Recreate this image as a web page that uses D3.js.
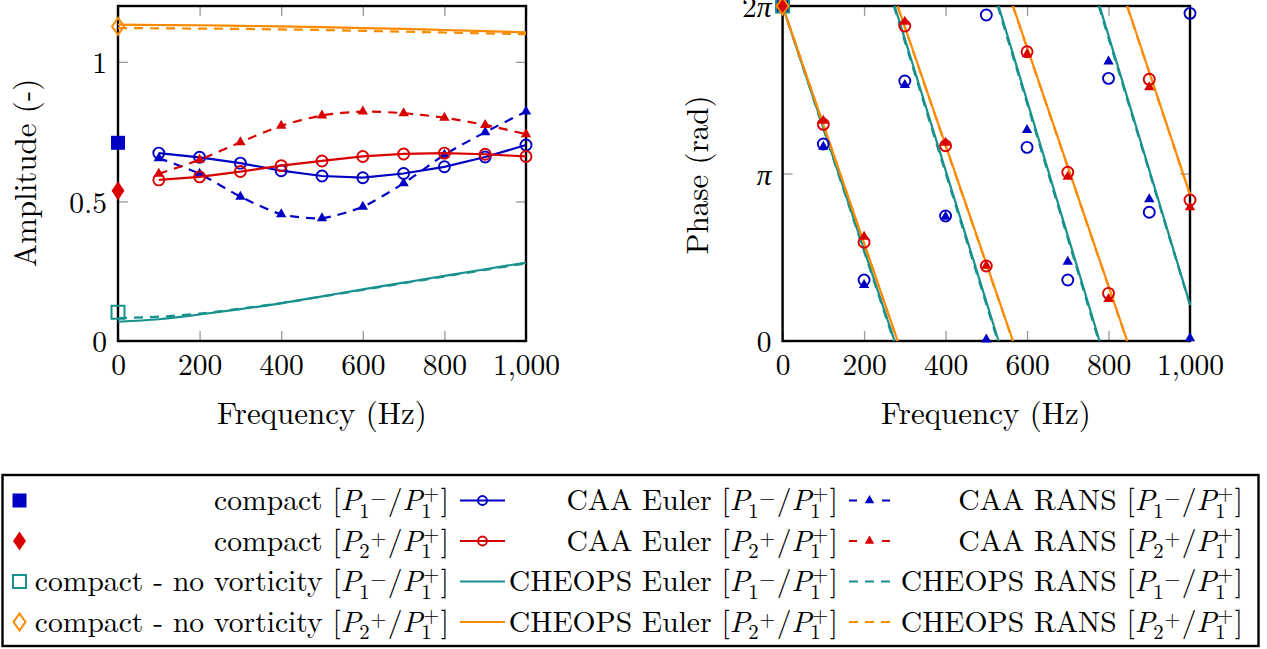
<!DOCTYPE html>
<html><head><meta charset="utf-8">
<script src="https://cdn.jsdelivr.net/npm/d3@7"></script>
<style>
body{margin:0;background:#fff}
svg{display:block}
</style>
</head><body>
<svg id="chart" width="1267" height="649" font-family="Latin Modern Roman"></svg>
<script>
// ---------- DATA ----------
const TWO_PI = 2 * Math.PI;
const caaFreqs = [100, 200, 300, 400, 500, 600, 700, 800, 900, 1000];
// amplitudes
const caaEulerP1Amp = [0.673, 0.658, 0.637, 0.610, 0.591, 0.585, 0.600, 0.624, 0.659, 0.702];
const caaEulerP2Amp = [0.577, 0.588, 0.607, 0.628, 0.645, 0.661, 0.670, 0.673, 0.669, 0.661];
const caaRansP1Amp  = [0.655, 0.599, 0.517, 0.454, 0.440, 0.481, 0.565, 0.667, 0.748, 0.822];
const caaRansP2Amp  = [0.599, 0.649, 0.712, 0.771, 0.808, 0.822, 0.816, 0.800, 0.774, 0.741];
const cheopsFreqs = [0, 100, 200, 300, 400, 500, 600, 700, 800, 900, 1000];
const cheopsEulerP1Amp = [0.069, 0.078, 0.095, 0.114, 0.135, 0.160, 0.185, 0.209, 0.233, 0.257, 0.281];
const cheopsRansP1Amp  = [0.082, 0.087, 0.098, 0.116, 0.136, 0.159, 0.183, 0.207, 0.231, 0.255, 0.278];
const cheopsEulerP2Amp = [1.133, 1.132, 1.131, 1.129, 1.127, 1.124, 1.121, 1.118, 1.114, 1.110, 1.106];
const cheopsRansP2Amp  = [1.121, 1.120, 1.119, 1.118, 1.116, 1.114, 1.111, 1.108, 1.105, 1.102, 1.099];
const compactAmp   = [0.710, 0.538];   // [P1-, P2+]
const compactNvAmp = [0.103, 1.127];   // no vorticity [P1-, P2+]
// phases (rad)
const caaEulerP1Phase = [3.695, 1.144, 4.876, 2.344, 6.114, 3.632, 1.144, 4.926, 2.414, 6.145];
const caaRansP1Phase  = [3.645, 1.050, 4.800, 2.330, 0.030, 3.957, 1.487, 5.240, 2.657, 0.050];
const caaEulerP2Phase = [4.064, 1.851, 5.908, 3.663, 1.407, 5.426, 3.164, 0.894, 4.908, 2.644];
const caaRansP2Phase  = [4.130, 1.956, 5.990, 3.720, 1.410, 5.380, 3.080, 0.788, 4.760, 2.510];
const compactPhase = [TWO_PI, TWO_PI, TWO_PI, TWO_PI];
// CHEOPS phase: frequencies where the wrapped phase jumps from 0 back to 2pi, and phase at 1000 Hz
const cheopsEulerP1Wrap = [0, 275, 530, 778];  const cheopsEulerP1End = 0.69;
const cheopsRansP1Wrap  = [0, 273, 528, 776];  const cheopsRansP1End  = 0.67;
const cheopsEulerP2Wrap = [0, 282.5, 565.5, 846]; const cheopsEulerP2End = 2.75;
const cheopsRansP2Wrap  = [0, 282, 565, 845.5];   const cheopsRansP2End  = 2.74;
// ticks
const freqTicks = [0, 200, 400, 600, 800, 1000];
const freqTickLabels = ["0", "200", "400", "600", "800", "1,000"];
const ampTicks = [0, 0.5, 1];
const ampTickLabels = ["0", "0.5", "1"];
const phaseTicks = [0, Math.PI, TWO_PI];
const phaseTickLabels = [["0", ""], ["", "π"], ["2", "π"]];

// ---------- STYLE ----------
const FONT = "Latin Modern Roman";
const BLUE = "#0000c4", RED = "#d90000", TEAL = "#17918c", ORANGE = "#fb8a00";
const DASH = "9,7";
const FS_TICK = 29.5, FS_LABEL = 31, FS_LEG = 29.6;

const svg = d3.select("#chart");

const xA = d3.scaleLinear([0, 1000], [118, 526]);
const yA = d3.scaleLinear([0, 1.2], [341, 6]);
const xP = d3.scaleLinear([0, 1000], [782.6, 1190]);
const yP = d3.scaleLinear([0, TWO_PI], [341, 6]);

function triPath(r) { const h = r * 0.866; return `M0,${-r}L${h},${r/2}L${-h},${r/2}Z`; }
function marker(g, type, x, y, color) {
  if (type === "sq") g.append("rect").attr("x", x-7).attr("y", y-7).attr("width", 14).attr("height", 14).attr("fill", color);
  else if (type === "osq") g.append("rect").attr("x", x-6.5).attr("y", y-6.5).attr("width", 13).attr("height", 13).attr("fill", "none").attr("stroke", color).attr("stroke-width", 2);
  else if (type === "dia") g.append("path").attr("d", `M${x},${y-9.5}L${x+6.5},${y}L${x},${y+9.5}L${x-6.5},${y}Z`).attr("fill", color);
  else if (type === "odia") g.append("path").attr("d", `M${x},${y-8.5}L${x+6},${y}L${x},${y+8.5}L${x-6},${y}Z`).attr("fill", "none").attr("stroke", color).attr("stroke-width", 2);
  else if (type === "circ") g.append("circle").attr("cx", x).attr("cy", y).attr("r", 5.5).attr("fill", "none").attr("stroke", color).attr("stroke-width", 1.9);
  else if (type === "tri") g.append("path").attr("d", triPath(6)).attr("transform", `translate(${x},${y})`).attr("fill", color);
}

function frameAndAxes(x, y, yTicks, yFmt) {
  const g = svg.append("g");
  const [x0, x1] = x.range(), [y0, y1] = y.range();
  const tickCol = "#9a9a9a";
  const ax = (axisGen, tr) => {
    const a = g.append("g").attr("transform", tr).call(axisGen);
    a.select(".domain").remove();
    a.selectAll("line").attr("stroke", tickCol).attr("stroke-width", 1.3);
    a.attr("font-family", FONT).attr("font-size", FS_TICK);
    return a;
  };
  ax(d3.axisBottom(x).tickValues(freqTicks).tickFormat((d, i) => freqTickLabels[i]).tickSizeInner(-10).tickSizeOuter(0).tickPadding(13), `translate(0,${y0})`);
  ax(d3.axisTop(x).tickValues(freqTicks).tickFormat("").tickSizeInner(-10).tickSizeOuter(0), `translate(0,${y1})`);
  const left = ax(d3.axisLeft(y).tickValues(yTicks).tickFormat("").tickSizeInner(-10).tickSizeOuter(0).tickPadding(11), `translate(${x0},0)`);
  ax(d3.axisRight(y).tickValues(yTicks).tickFormat("").tickSizeInner(-10).tickSizeOuter(0), `translate(${x1},0)`);
  left.selectAll(".tick text").each(function(d, i) { yFmt(d3.select(this), i); }).attr("dy", "0.36em");
  g.append("rect").attr("x", x0).attr("y", y1).attr("width", x1 - x0).attr("height", y0 - y1)
    .attr("fill", "none").attr("stroke", "#000").attr("stroke-width", 2.4);
  return g;
}

// ---------- AMPLITUDE PLOT ----------
frameAndAxes(xA, yA, ampTicks, (t, i) => t.text(ampTickLabels[i]));
const gA = svg.append("g");
const lineA = (xs, ys, curve) => d3.line().x((d, i) => xA(xs[i])).y(d => yA(d)).curve(curve)(ys);
[[cheopsRansP2Amp, ORANGE, DASH], [cheopsEulerP2Amp, ORANGE, null], [cheopsRansP1Amp, TEAL, DASH], [cheopsEulerP1Amp, TEAL, null]]
  .forEach(([v, c, da]) => gA.append("path").attr("d", lineA(cheopsFreqs, v, d3.curveMonotoneX)).attr("fill", "none")
    .attr("stroke", c).attr("stroke-width", 2.2).attr("stroke-dasharray", da));
[[caaEulerP1Amp, BLUE, null, "circ"], [caaRansP1Amp, BLUE, DASH, "tri"], [caaEulerP2Amp, RED, null, "circ"], [caaRansP2Amp, RED, DASH, "tri"]]
  .forEach(([v, c, da, m]) => {
    gA.append("path").attr("d", lineA(caaFreqs, v, da ? d3.curveCardinal.tension(0.3) : d3.curveLinear)).attr("fill", "none")
      .attr("stroke", c).attr("stroke-width", 2.2).attr("stroke-dasharray", da);
    v.forEach((d, i) => marker(gA, m, xA(caaFreqs[i]), yA(d), c));
  });
marker(gA, "sq", xA(0), yA(compactAmp[0]), BLUE);
marker(gA, "dia", xA(0), yA(compactAmp[1]), RED);
marker(gA, "osq", xA(0), yA(compactNvAmp[0]), TEAL);
marker(gA, "odia", xA(0), yA(compactNvAmp[1]), ORANGE);

// ---------- PHASE PLOT ----------
frameAndAxes(xP, yP, phaseTicks, (t, i) => {
  t.text(null);
  t.append("tspan").text(phaseTickLabels[i][0]);
  if (phaseTickLabels[i][1]) t.append("tspan").attr("font-style", "italic").text(phaseTickLabels[i][1]);
});
const gP = svg.append("g");
function wrapLines(wraps, endPhase, color, da) {
  wraps.forEach((f0, i) => {
    const f1 = i + 1 < wraps.length ? wraps[i + 1] : 1000;
    const p1 = i + 1 < wraps.length ? 0 : endPhase;
    gP.append("path").attr("d", d3.line()([[xP(f0), yP(TWO_PI)], [xP(f1), yP(p1)]]))
      .attr("fill", "none").attr("stroke", color).attr("stroke-width", 2.2).attr("stroke-dasharray", da);
  });
}
wrapLines(cheopsRansP1Wrap, cheopsRansP1End, TEAL, DASH);
wrapLines(cheopsEulerP1Wrap, cheopsEulerP1End, TEAL, null);
wrapLines(cheopsRansP2Wrap, cheopsRansP2End, ORANGE, DASH);
wrapLines(cheopsEulerP2Wrap, cheopsEulerP2End, ORANGE, null);
[[caaRansP1Phase, BLUE, "tri"], [caaEulerP1Phase, BLUE, "circ"], [caaRansP2Phase, RED, "tri"], [caaEulerP2Phase, RED, "circ"]]
  .forEach(([v, c, m]) => v.forEach((d, i) => marker(gP, m, xP(caaFreqs[i]), yP(d), c)));
marker(gP, "sq", xP(0), yP(compactPhase[0]), BLUE);
marker(gP, "osq", xP(0), yP(compactPhase[2]), TEAL);
marker(gP, "dia", xP(0), yP(compactPhase[1]), RED);
marker(gP, "odia", xP(0), yP(compactPhase[3]), ORANGE);

// ---------- AXIS LABELS ----------
const lab = (x, y, rot, txt) => svg.append("text").attr("transform", `translate(${x},${y}) rotate(${rot})`)
  .attr("font-family", FONT).attr("text-anchor", "middle").attr("font-size", FS_LABEL).text(txt);
lab(322, 424, 0, "Frequency (Hz)");
lab(986, 424, 0, "Frequency (Hz)");
lab(36, 173, -90, "Amplitude (-)");
lab(708, 175, -90, "Phase (rad)");

// ---------- LEGEND ----------
svg.append("rect").attr("x", 2.5).attr("y", 475).attr("width", 1256).attr("height", 171)
  .attr("fill", "none").attr("stroke", "#000").attr("stroke-width", 2.4);
const legRows = [
  { c1: { m: "sq", c: BLUE, t: "compact" }, c2: { c: BLUE, m: "circ", t: "CAA Euler" }, c3: { c: BLUE, m: "tri", t: "CAA RANS" }, num: "1", sgn: "−" },
  { c1: { m: "dia", c: RED, t: "compact" }, c2: { c: RED, m: "circ", t: "CAA Euler" }, c3: { c: RED, m: "tri", t: "CAA RANS" }, num: "2", sgn: "+" },
  { c1: { m: "osq", c: TEAL, t: "compact - no vorticity" }, c2: { c: TEAL, m: null, t: "CHEOPS Euler" }, c3: { c: TEAL, m: null, t: "CHEOPS RANS" }, num: "1", sgn: "−" },
  { c1: { m: "odia", c: ORANGE, t: "compact - no vorticity" }, c2: { c: ORANGE, m: null, t: "CHEOPS Euler" }, c3: { c: ORANGE, m: null, t: "CHEOPS RANS" }, num: "2", sgn: "+" }
];
const gL = svg.append("g").attr("font-family", FONT);
const meas = (t, size, italic) => {
  const el = gL.append("text").attr("font-size", size).attr("font-style", italic ? "italic" : null).text(t);
  const w = el.node().getComputedTextLength(); el.remove(); return w;
};
function mathLabel(xRight, yBase, word, num, sgn) {
  const S = FS_LEG * 0.7;
  const t = gL.append("text").attr("font-size", FS_LEG);
  let x = 0, y = 0;
  const span = (txt, o = {}) => {
    const ny = o.dy || 0;
    const sp = t.append("tspan").attr("dy", ny - y).text(txt);
    y = ny;
    if (o.dx) sp.attr("dx", o.dx);
    if (o.small) sp.attr("font-size", S);
    if (o.it) sp.attr("font-style", "italic");
    x += (o.dx || 0) + meas(txt, o.small ? S : FS_LEG, o.it);
  };
  span(word + " [");
  span("P", { it: true });
  span(num, { small: true, dy: 7.5, dx: -1.5 });
  span(sgn, { small: true, dy: -5.5, dx: 0.5 });
  span("/", { dx: 1.5 });
  span("P", { it: true });
  const w1 = meas("1", S, false), w2 = meas("+", S, false);
  span("1", { small: true, dy: 7.5, dx: -1.5 });
  span("+", { small: true, dy: -10, dx: -w1 + 2 });
  span("]", { dx: Math.max(0, w1 - w2 - 2) + 1.5 });
  t.attr("x", xRight - x).attr("y", yBase);
}
const rowY = [500.5, 541, 581.5, 622];
legRows.forEach((r, i) => {
  const y = rowY[i];
  marker(gL, r.c1.m, 19.5, y, r.c1.c);
  mathLabel(449, y + 9.5, r.c1.t, r.num, r.sgn);
  gL.append("line").attr("x1", 460).attr("x2", 505).attr("y1", y).attr("y2", y).attr("stroke", r.c2.c).attr("stroke-width", 2.2);
  if (r.c2.m) gL.append("circle").attr("cx", 482.5).attr("cy", y).attr("r", 4.5).attr("fill", "none").attr("stroke", r.c2.c).attr("stroke-width", 1.9);
  mathLabel(838, y + 9.5, r.c2.t, r.num, r.sgn);
  gL.append("line").attr("x1", 849).attr("x2", 890).attr("y1", y).attr("y2", y).attr("stroke", r.c3.c).attr("stroke-width", 2.2).attr("stroke-dasharray", r.c3.m ? "8,25" : "9,7");
  if (r.c3.m) gL.append("path").attr("d", triPath(5.5)).attr("transform", `translate(869.5,${y})`).attr("fill", r.c3.c);
  mathLabel(1243, y + 9.5, r.c3.t, r.num, r.sgn);
});
</script>
</body></html>
